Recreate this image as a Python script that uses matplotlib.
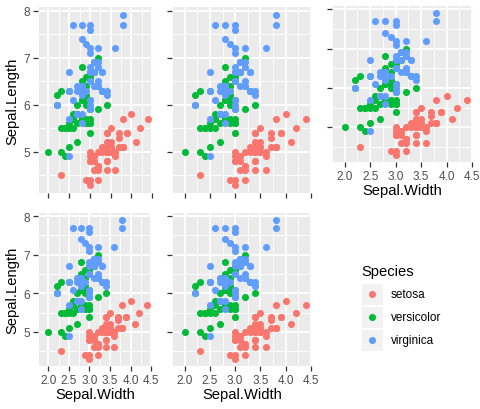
import numpy as np
import matplotlib.pyplot as plt

plt.rcParams["font.family"] = ["Liberation Sans", "DejaVu Sans"]

# iris: Sepal.Length / Sepal.Width per species
setosa_len = [5.1, 4.9, 4.7, 4.6, 5.0, 5.4, 4.6, 5.0, 4.4, 4.9, 5.4, 4.8, 4.8, 4.3, 5.8, 5.7, 5.4, 5.1, 5.7, 5.1,
              5.4, 5.1, 4.6, 5.1, 4.8, 5.0, 5.0, 5.2, 5.2, 4.7, 4.8, 5.4, 5.2, 5.5, 4.9, 5.0, 5.5, 4.9, 4.4, 5.1,
              5.0, 4.5, 4.4, 5.0, 5.1, 4.8, 5.1, 4.6, 5.3, 5.0]
setosa_wid = [3.5, 3.0, 3.2, 3.1, 3.6, 3.9, 3.4, 3.4, 2.9, 3.1, 3.7, 3.4, 3.0, 3.0, 4.0, 4.4, 3.9, 3.5, 3.8, 3.8,
              3.4, 3.7, 3.6, 3.3, 3.4, 3.0, 3.4, 3.5, 3.4, 3.2, 3.1, 3.4, 4.1, 4.2, 3.1, 3.2, 3.5, 3.6, 3.0, 3.4,
              3.5, 2.3, 3.2, 3.5, 3.8, 3.0, 3.8, 3.2, 3.7, 3.3]
versicolor_len = [7.0, 6.4, 6.9, 5.5, 6.5, 5.7, 6.3, 4.9, 6.6, 5.2, 5.0, 5.9, 6.0, 6.1, 5.6, 6.7, 5.6, 5.8, 6.2, 5.6,
                  5.9, 6.1, 6.3, 6.1, 6.4, 6.6, 6.8, 6.7, 6.0, 5.7, 5.5, 5.5, 5.8, 6.0, 5.4, 6.0, 6.7, 6.3, 5.6, 5.5,
                  5.5, 6.1, 5.8, 5.0, 5.6, 5.7, 5.7, 6.2, 5.1, 5.7]
versicolor_wid = [3.2, 3.2, 3.1, 2.3, 2.8, 2.8, 3.3, 2.4, 2.9, 2.7, 2.0, 3.0, 2.2, 2.9, 2.9, 3.1, 3.0, 2.7, 2.2, 2.5,
                  3.2, 2.8, 2.5, 2.8, 2.9, 3.0, 2.8, 3.0, 2.9, 2.6, 2.4, 2.4, 2.7, 2.7, 3.0, 3.4, 3.1, 2.3, 3.0, 2.5,
                  2.6, 3.0, 2.6, 2.3, 2.7, 3.0, 2.9, 2.9, 2.5, 2.8]
virginica_len = [6.3, 5.8, 7.1, 6.3, 6.5, 7.6, 4.9, 7.3, 6.7, 7.2, 6.5, 6.4, 6.8, 5.7, 5.8, 6.4, 6.5, 7.7, 7.7, 6.0,
                 6.9, 5.6, 7.7, 6.3, 6.7, 7.2, 6.2, 6.1, 6.4, 7.2, 7.4, 7.9, 6.4, 6.3, 6.1, 7.7, 6.3, 6.4, 6.0, 6.9,
                 6.7, 6.9, 5.8, 6.8, 6.7, 6.7, 6.3, 6.5, 6.2, 5.9]
virginica_wid = [3.3, 2.7, 3.0, 2.9, 3.0, 3.0, 2.5, 2.9, 2.5, 3.6, 3.2, 2.7, 3.0, 2.5, 2.8, 3.2, 3.0, 3.8, 2.6, 2.2,
                 3.2, 2.8, 2.8, 2.7, 3.3, 3.2, 2.8, 3.0, 2.8, 3.0, 2.8, 3.8, 2.8, 2.8, 2.6, 3.0, 3.4, 3.1, 3.0, 3.1,
                 3.1, 3.1, 2.7, 3.2, 3.3, 3.0, 2.5, 3.0, 3.4, 3.0]

species = ["setosa", "versicolor", "virginica"]
colors = ["#F8766D", "#00BA38", "#619CFF"]
x_ticks = [2.0, 2.5, 3.0, 3.5, 4.0, 4.5]
y_ticks = [5, 6, 7, 8]

series = [(setosa_wid, setosa_len), (versicolor_wid, versicolor_len), (virginica_wid, virginica_len)]

W, H = 481, 410
fig = plt.figure(figsize=(W / 100, H / 100), dpi=100)


def box(l, t, r, b):
    return [l / W, 1 - b / H, (r - l) / W, (b - t) / H]


def panel(rect, ylab, xlab):
    ax = fig.add_axes(box(*rect))
    ax.set_facecolor("#EBEBEB")
    for s in ax.spines.values():
        s.set_visible(False)
    for (xs, ys), c in zip(series, colors):
        ax.scatter(xs, ys, s=26, color=c, linewidths=0, zorder=3)
    ax.set_xlim(1.88, 4.52)
    ax.set_ylim(4.12, 8.08)
    ax.set_xticks(x_ticks)
    ax.set_yticks(y_ticks)
    ax.set_xticks(np.arange(1.75, 4.6, 0.5), minor=True)
    ax.set_yticks(np.arange(4.5, 8.1, 1.0), minor=True)
    ax.grid(True, which="major", color="white", lw=1.3, zorder=1)
    ax.grid(True, which="minor", color="white", lw=0.6, zorder=1)
    ax.tick_params(which="major", length=3.5, width=0.9, color="#333333",
                   labelsize=8.5, labelcolor="#4D4D4D", pad=2)
    ax.tick_params(which="minor", length=0)
    ax.set_axisbelow(True)
    if ylab:
        ax.set_ylabel("Sepal.Length", fontsize=10.6, labelpad=3)
    else:
        ax.set_yticklabels([])
    if xlab:
        ax.set_xlabel("Sepal.Width", fontsize=10.6, labelpad=1)
        ax.set_xticklabels(["2.0", "2.5", "3.0", "3.5", "4.0", "4.5"])
    else:
        ax.set_xticklabels([])
    return ax


panel((38, 8, 153, 194), True, False)
panel((172, 8, 312, 194), False, False)
panel((332, 7, 473, 163), False, True)
panel((38, 214, 152, 367), True, True)
panel((172, 214, 312, 367), False, True)

# legend
lg = fig.add_axes([0, 0, 1, 1])
lg.set_xlim(0, W)
lg.set_ylim(H, 0)
lg.axis("off")
lg.text(361, 276, "Species", fontsize=10.6, ha="left", va="baseline")
for i, (name, c) in enumerate(zip(species, colors)):
    top = 284 + i * 23
    lg.add_patch(plt.Rectangle((361, top), 22, 22, facecolor="#F2F2F2", edgecolor="white", lw=0.8))
    lg.scatter([372], [top + 11], s=26, color=c, linewidths=0)
    lg.text(391, top + 11, name, fontsize=8.5, ha="left", va="center")

fig.savefig("out.png", dpi=100)
